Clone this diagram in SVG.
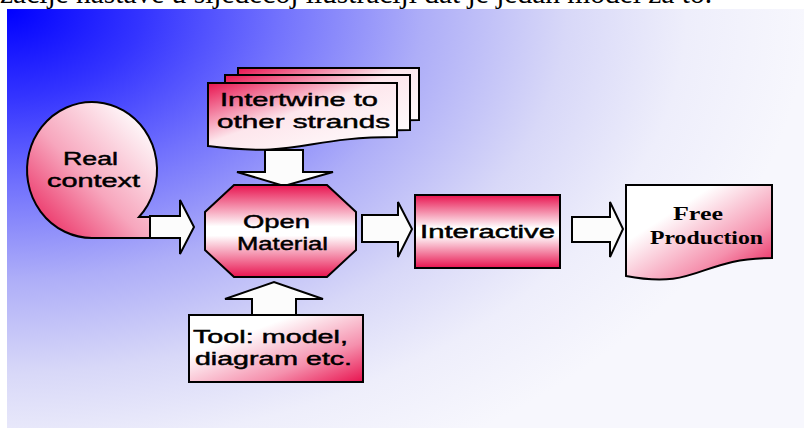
<svg xmlns="http://www.w3.org/2000/svg" width="811" height="428" viewBox="0 0 811 428">
  <defs>
    <radialGradient id="bg" gradientUnits="userSpaceOnUse" cx="0" cy="0" r="1" fx="0" fy="0" gradientTransform="translate(7,9) scale(800,520)">
      <stop offset="0" stop-color="#0000ff"/>
      <stop offset="0.17" stop-color="#3434ff"/>
      <stop offset="0.34" stop-color="#7272fd"/>
      <stop offset="0.52" stop-color="#aeaef8"/>
      <stop offset="0.7" stop-color="#d8d8f8"/>
      <stop offset="0.85" stop-color="#eeeefb"/>
      <stop offset="1" stop-color="#f7f7fd"/>
    </radialGradient>
    <!-- crimson lower-left, white upper-right -->
    <linearGradient id="gBL" x1="1" y1="0" x2="0" y2="1">
      <stop offset="0.1" stop-color="#ffffff"/>
      <stop offset="0.55" stop-color="#f7a6bd"/>
      <stop offset="1" stop-color="#e8134f"/>
    </linearGradient>
    <!-- crimson upper-left, white toward lower-right -->
    <linearGradient id="gTL" x1="0" y1="0" x2="1" y2="1">
      <stop offset="0" stop-color="#e8134f"/>
      <stop offset="0.45" stop-color="#fde6ec"/>
      <stop offset="1" stop-color="#ffffff"/>
    </linearGradient>
    <!-- white upper-left, crimson lower-right -->
    <linearGradient id="gBR" x1="0" y1="0" x2="1" y2="1">
      <stop offset="0.3" stop-color="#ffffff"/>
      <stop offset="0.7" stop-color="#f590ad"/>
      <stop offset="1" stop-color="#e8134f"/>
    </linearGradient>
    <!-- crimson top and bottom, white band in the middle -->
    <linearGradient id="gMid" x1="0" y1="0" x2="0" y2="1">
      <stop offset="0" stop-color="#e8134f"/>
      <stop offset="0.45" stop-color="#ffffff"/>
      <stop offset="0.55" stop-color="#ffffff"/>
      <stop offset="1" stop-color="#e8134f"/>
    </linearGradient>
  </defs>
  <style>
    .shape { stroke: #000; stroke-width: 2; stroke-linejoin: miter; }
    .arrow { fill: #fcfcfc; stroke: #000; stroke-width: 2; stroke-linejoin: miter; }
    .lbl { font-family: "Liberation Sans", Arial, sans-serif; font-size: 18px; fill: #000; stroke: #000; stroke-width: 0.45; }
    .lbl-serif { font-family: "Liberation Serif", "Times New Roman", serif; font-size: 19px; font-weight: bold; fill: #000; }
  </style>

  <!-- page background and caption line -->
  <rect x="0" y="0" width="811" height="428" fill="#ffffff"/>
  <text x="0" y="3" font-family="Liberation Serif, Times New Roman, serif" font-size="30" textLength="712" lengthAdjust="spacingAndGlyphs" fill="#000">zacije nastave u sljedećoj ilustraciji dat je jedan model za to.</text>
  <rect x="7" y="9" width="797" height="419" fill="url(#bg)"/>

  <!-- block arrows -->
  <g id="connectors">
    <path class="arrow" d="M150,216 L180,216 L180,200 L194,227 L180,254 L180,238 L150,238 Z"/>
    <path class="arrow" d="M265,150 L303,150 L303,172 L333,172 L284,186 L237,172 L265,172 Z"/>
    <path class="arrow" d="M252,316 L252,299 L225,299 L274,282 L323,299 L296,299 L296,316 Z"/>
    <path class="arrow" d="M362,215 L398,215 L398,202 L412,229 L398,257 L398,242 L362,242 Z"/>
    <path class="arrow" d="M572,217 L610,217 L610,202 L623,229 L610,257 L610,242 L572,242 Z"/>
  </g>

  <g id="node-real-context">
    <path class="shape" fill="url(#gBL)" d="M92,238 A65,68 0 1 1 139,217 L150,217 L150,238 Z"/>
    <text class="lbl" x="63" y="165" textLength="55" lengthAdjust="spacingAndGlyphs">Real</text>
    <text class="lbl" x="47" y="187" textLength="93" lengthAdjust="spacingAndGlyphs">context</text>
  </g>

  <g id="node-intertwine">
    <path class="shape" fill="url(#gTL)" d="M238,68 H419 V120 C328.5,120 328.5,141 238,129 Z"/>
    <path class="shape" fill="url(#gTL)" d="M225,75 H410 V130 C317.5,130 317.5,151 225,139 Z"/>
    <path class="shape" fill="url(#gTL)" d="M208,83 H397 V137 C302.5,137 302.5,158 208,146 Z"/>
    <text class="lbl" x="220" y="106" textLength="158" lengthAdjust="spacingAndGlyphs">Intertwine to</text>
    <text class="lbl" x="217" y="128" textLength="173" lengthAdjust="spacingAndGlyphs">other strands</text>
  </g>

  <g id="node-open-material">
    <polygon class="shape" fill="url(#gMid)" points="234,185 327,185 356,212 356,250 327,277 234,277 205,250 205,212"/>
    <text class="lbl" x="243" y="228" textLength="67" lengthAdjust="spacingAndGlyphs">Open</text>
    <text class="lbl" x="237" y="250" textLength="91" lengthAdjust="spacingAndGlyphs">Material</text>
  </g>

  <g id="node-interactive">
    <rect class="shape" fill="url(#gMid)" x="415" y="195" width="145" height="73"/>
    <text class="lbl" x="420" y="238" textLength="135" lengthAdjust="spacingAndGlyphs">Interactive</text>
  </g>

  <g id="node-free-production">
    <path class="shape" fill="url(#gBR)" d="M626,185 H772 V258 C699,258 699,290 626,276 Z"/>
    <text class="lbl-serif" x="673" y="220" textLength="50" lengthAdjust="spacingAndGlyphs">Free</text>
    <text class="lbl-serif" x="650" y="244" textLength="113" lengthAdjust="spacingAndGlyphs">Production</text>
  </g>

  <g id="node-tool">
    <rect class="shape" fill="url(#gBR)" x="189" y="315" width="174" height="67"/>
    <text class="lbl" x="193" y="343" textLength="155" lengthAdjust="spacingAndGlyphs">Tool: model,</text>
    <text class="lbl" x="195" y="365" textLength="157" lengthAdjust="spacingAndGlyphs">diagram etc.</text>
  </g>
</svg>
